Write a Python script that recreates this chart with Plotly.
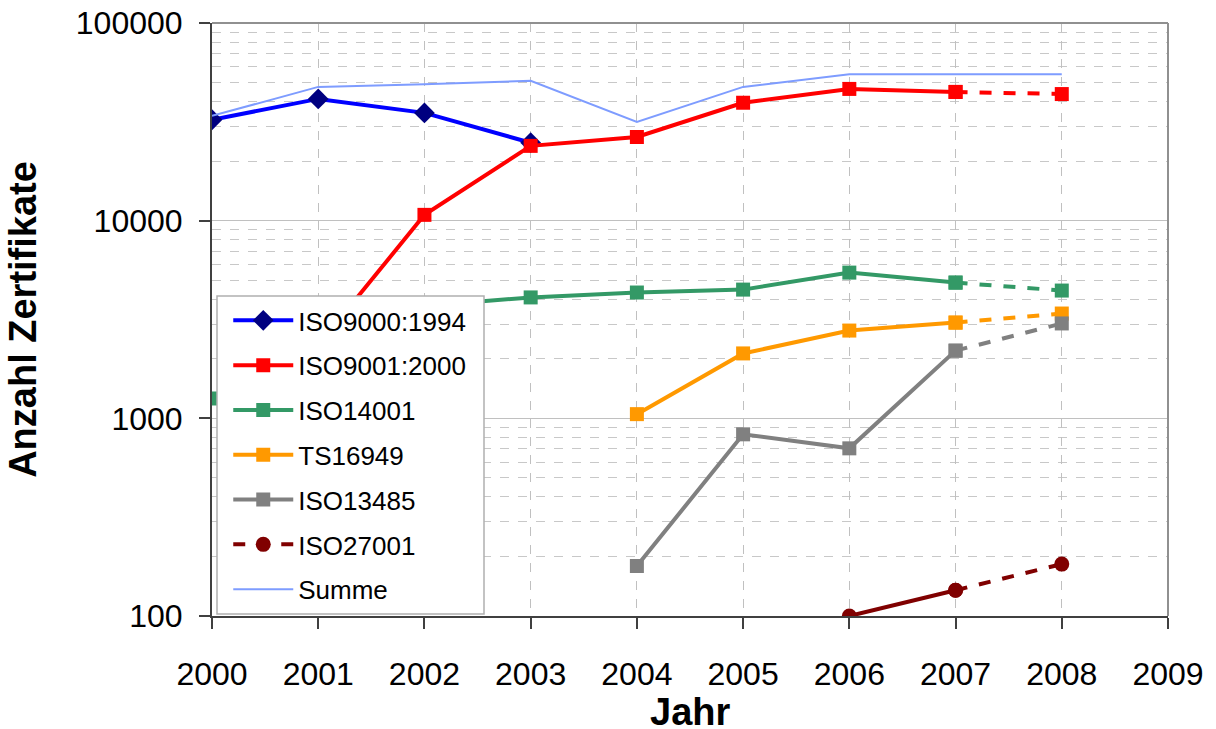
import plotly.graph_objects as go

years = [2000, 2001, 2002, 2003, 2004, 2005, 2006, 2007, 2008]

iso9000_1994 = [32400, 41300, 35100, 24800, None, None, None, None, None]
iso9001_2000 = [None, 2340, 10700, 23900, 26500, 39500, 46400, 44800, 43700]
iso14001 = [1260, 2600, 3700, 4090, 4330, 4480, 5460, 4860, 4430]
ts16949 = [None, None, None, None, 1050, 2130, 2780, 3050, 3390]
iso13485 = [None, None, None, None, 179, 830, 705, 2200, 3020]
iso27001 = [None, None, None, None, None, None, 100, 135, 183]
summe = [33900, 47500, 49000, 51000, 31600, 47500, 55000, 55000, 55000]

series = [
    ("ISO9000:1994", iso9000_1994, "#0000FF", "#000080", "diamond", 16, False),
    ("ISO9001:2000", iso9001_2000, "#FF0000", "#FF0000", "square", 14, True),
    ("ISO14001", iso14001, "#339966", "#339966", "square", 14, True),
    ("TS16949", ts16949, "#FF9900", "#FF9900", "square", 14, True),
    ("ISO13485", iso13485, "#808080", "#808080", "square", 14, True),
    ("ISO27001", iso27001, "#800000", "#800000", "circle", 15, True),
]

fig = go.Figure()
split = years.index(2007)
for rank, (name, vals, lc, mc, sym, ms, dashed) in enumerate(series):
    legend_on_dash = name == "ISO27001"
    fig.add_trace(go.Scatter(
        x=years[:split + 1] if dashed else years, y=vals[:split + 1] if dashed else vals,
        name=name, mode="lines+markers",
        line=dict(color=lc, width=4),
        marker=dict(color=mc, symbol=sym, size=ms),
        showlegend=not legend_on_dash, legendrank=rank + 1,
        legendgroup=name, connectgaps=False))
    if dashed:
        fig.add_trace(go.Scatter(
            x=years[split:], y=vals[split:], name=name, mode="lines+markers",
            line=dict(color=lc, width=4, dash="dash"),
            marker=dict(color=mc, symbol=sym, size=ms),
            showlegend=legend_on_dash, legendrank=rank + 1,
            legendgroup=name + "_d" if not legend_on_dash else name))

fig.add_trace(go.Scatter(
    x=years, y=summe, name="Summe", mode="lines",
    line=dict(color="#7E9CFF", width=2), legendrank=7, legendgroup="Summe"))

font = "Liberation Sans, Arial, sans-serif"
fig.update_layout(
    width=1216, height=729,
    margin=dict(l=212, r=48, t=23, b=113),
    paper_bgcolor="white", plot_bgcolor="white",
    font=dict(family=font, size=26, color="black"),
    showlegend=True,
    legend=dict(x=0.017, y=0.538, xanchor="left", yanchor="top",
                bgcolor="rgba(0,0,0,0)", borderwidth=0,
                font=dict(size=26, family=font), tracegroupgap=8,
                traceorder="grouped", itemwidth=60),
    xaxis=dict(range=[2000, 2009], dtick=1, tick0=2000, automargin=False,
               showgrid=True, gridcolor="#C0C0C0", griddash="dash", gridwidth=1,
               showline=True, linecolor="#404040", linewidth=2,
               ticks="outside", ticklen=11, tickcolor="#404040", tickwidth=2,
               tickfont=dict(size=32), zeroline=False, ticklabelstandoff=18),
    yaxis=dict(type="log", range=[2, 5], dtick=1, automargin=False,
               showgrid=True, gridcolor="#C0C0C0", gridwidth=1,
               showline=True, linecolor="#404040", linewidth=2,
               ticks="outside", ticklen=11, tickcolor="#404040", tickwidth=2,
               tickfont=dict(size=32), tickformat="d", ticklabelstandoff=10,
               minor=dict(dtick="D1", showgrid=True, gridcolor="#C8C8C8", griddash="dash", ticks=""),
               title=dict(text="<b>Anzahl Zertifikate</b>", font=dict(size=38), standoff=28)),
)

# x-axis title as an annotation so it is not squeezed into the labels
fig.add_annotation(text="<b>Jahr</b>", xref="paper", yref="paper",
                   x=0.5, y=(616 - 712) / 593, xanchor="center", yanchor="middle",
                   showarrow=False, font=dict(size=38, family=font, color="black"))

# plot border top/right
fig.add_shape(type="line", xref="paper", yref="paper", x0=0, x1=1, y0=1, y1=1,
              line=dict(color="#909090", width=2), layer="above")
fig.add_shape(type="line", xref="paper", yref="paper", x0=1, x1=1, y0=0, y1=1,
              line=dict(color="#909090", width=2), layer="above")
# legend box
fig.add_shape(type="rect", xref="paper", yref="paper",
              x0=(217 - 212) / 956, x1=(484 - 212) / 956,
              y0=(616 - 614) / 593, y1=(616 - 296) / 593,
              line=dict(color="#B0B0B0", width=1.5), fillcolor="white", layer="above")

fig.write_html("out.html", config={"displayModeBar": False},
               post_script="document.body.style.margin='0';")
